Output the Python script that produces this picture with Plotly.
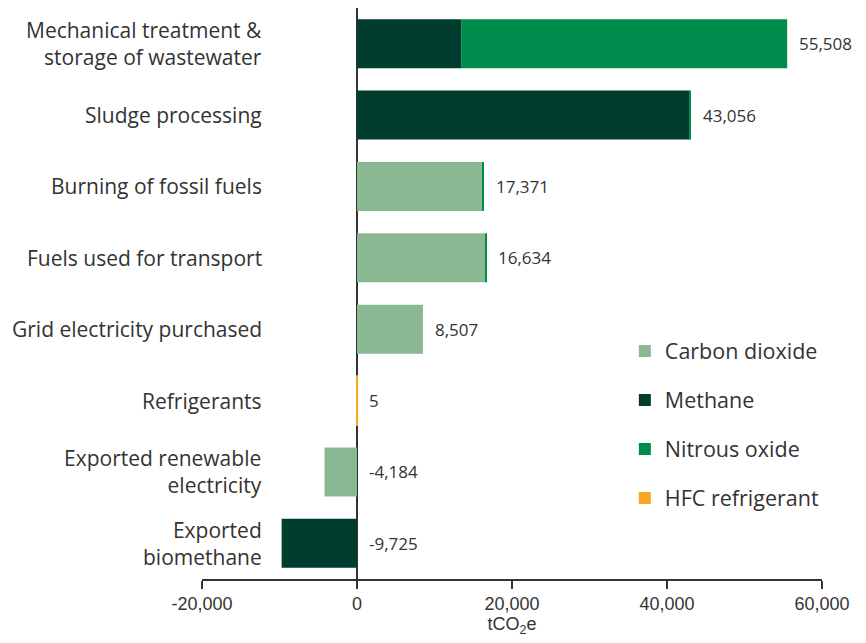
import plotly.graph_objects as go

categories = ["Mechanical treatment &<br>storage of wastewater", "Sludge processing",
              "Burning of fossil fuels", "Fuels used for transport",
              "Grid electricity purchased", "Refrigerants",
              "Exported renewable<br>electricity", "Exported<br>biomethane"]
carbon_dioxide = [0, 0, 16200, 16550, 8507, 0, -4184, 0]
methane = [13500, 42900, 0, 0, 0, 0, 0, -9725]
nitrous_oxide = [42008, 156, 130, 100, 0, 0, 0, 0]
hfc_refrigerant = [0, 0, 0, 0, 0, 5, 0, 0]
totals = [55508, 43056, 17371, 16634, 8507, 5, -4184, -9725]
x_ticks = [-20000, 0, 20000, 40000, 60000]

series = [("Carbon dioxide", carbon_dioxide, "#8ab893"),
          ("Methane", methane, "#003d2e"),
          ("Nitrous oxide", nitrous_oxide, "#008c4c"),
          ("HFC refrigerant", hfc_refrigerant, "#f5a623")]

TXT = "#333333"
LABEL_FONT = "Open Sans, sans-serif"

fig = go.Figure()
for name, vals, col in series:
    # tiny values (the 5 t of HFC) get an outline so they stay visible
    lw = [2 if (name == "HFC refrigerant" and v != 0) else 0 for v in vals]
    fig.add_trace(go.Bar(
        y=categories, x=vals, name=name, orientation="h",
        marker=dict(color=col, line=dict(color=col, width=lw)),
        legendgroup=name, hoverinfo="x+name"))

# value labels right of the bar end (or right of zero for negatives)
ends = [sum(v[i] for _, v, _ in series if v[i] > 0) for i in range(len(categories))]
for cat, end, tot in zip(categories, ends, totals):
    fig.add_annotation(x=end, y=cat, xref="x", yref="y", text=f"{tot:,}",
                       showarrow=False, xanchor="left", xshift=10,
                       font=dict(family=LABEL_FONT, size=17, color=TXT))

# category labels sit over the left part of the plot area, so use annotations
for cat in categories:
    fig.add_annotation(x=(256 - 194) / 620, y=cat, xref="paper", yref="y", text=cat,
                       showarrow=False, xanchor="right", align="right",
                       font=dict(family=LABEL_FONT, size=21, color=TXT))

fig.update_layout(
    barmode="relative", bargap=0.315,
    width=858, height=635,
    margin=dict(l=194, r=44, t=0, b=64),
    plot_bgcolor="white", paper_bgcolor="white",
    font=dict(family="Liberation Sans, Arial, sans-serif", color=TXT),
    legend=dict(x=0.682, y=0.435, xanchor="left", yanchor="top",
                traceorder="grouped", tracegroupgap=18, itemwidth=30,
                font=dict(family=LABEL_FONT, size=21.5, color=TXT), bgcolor="rgba(0,0,0,0)"),
    xaxis=dict(range=[-20000, 60000], tickvals=x_ticks,
               ticktext=[f"{v:,}" for v in x_ticks], showgrid=False,
               showline=True, linecolor=TXT, linewidth=1.5,
               ticks="outside", ticklen=8, tickwidth=1.5, tickcolor=TXT,
               zeroline=True, zerolinecolor=TXT, zerolinewidth=1.5,
               tickfont=dict(size=18, color=TXT), automargin=False,
               title=dict(text="tCO<sub>2</sub>e", font=dict(size=18, color=TXT), standoff=4)),
    yaxis=dict(autorange="reversed", showticklabels=False, showgrid=False,
               showline=False, ticks="", automargin=False),
)

fig.write_html("out.html")
